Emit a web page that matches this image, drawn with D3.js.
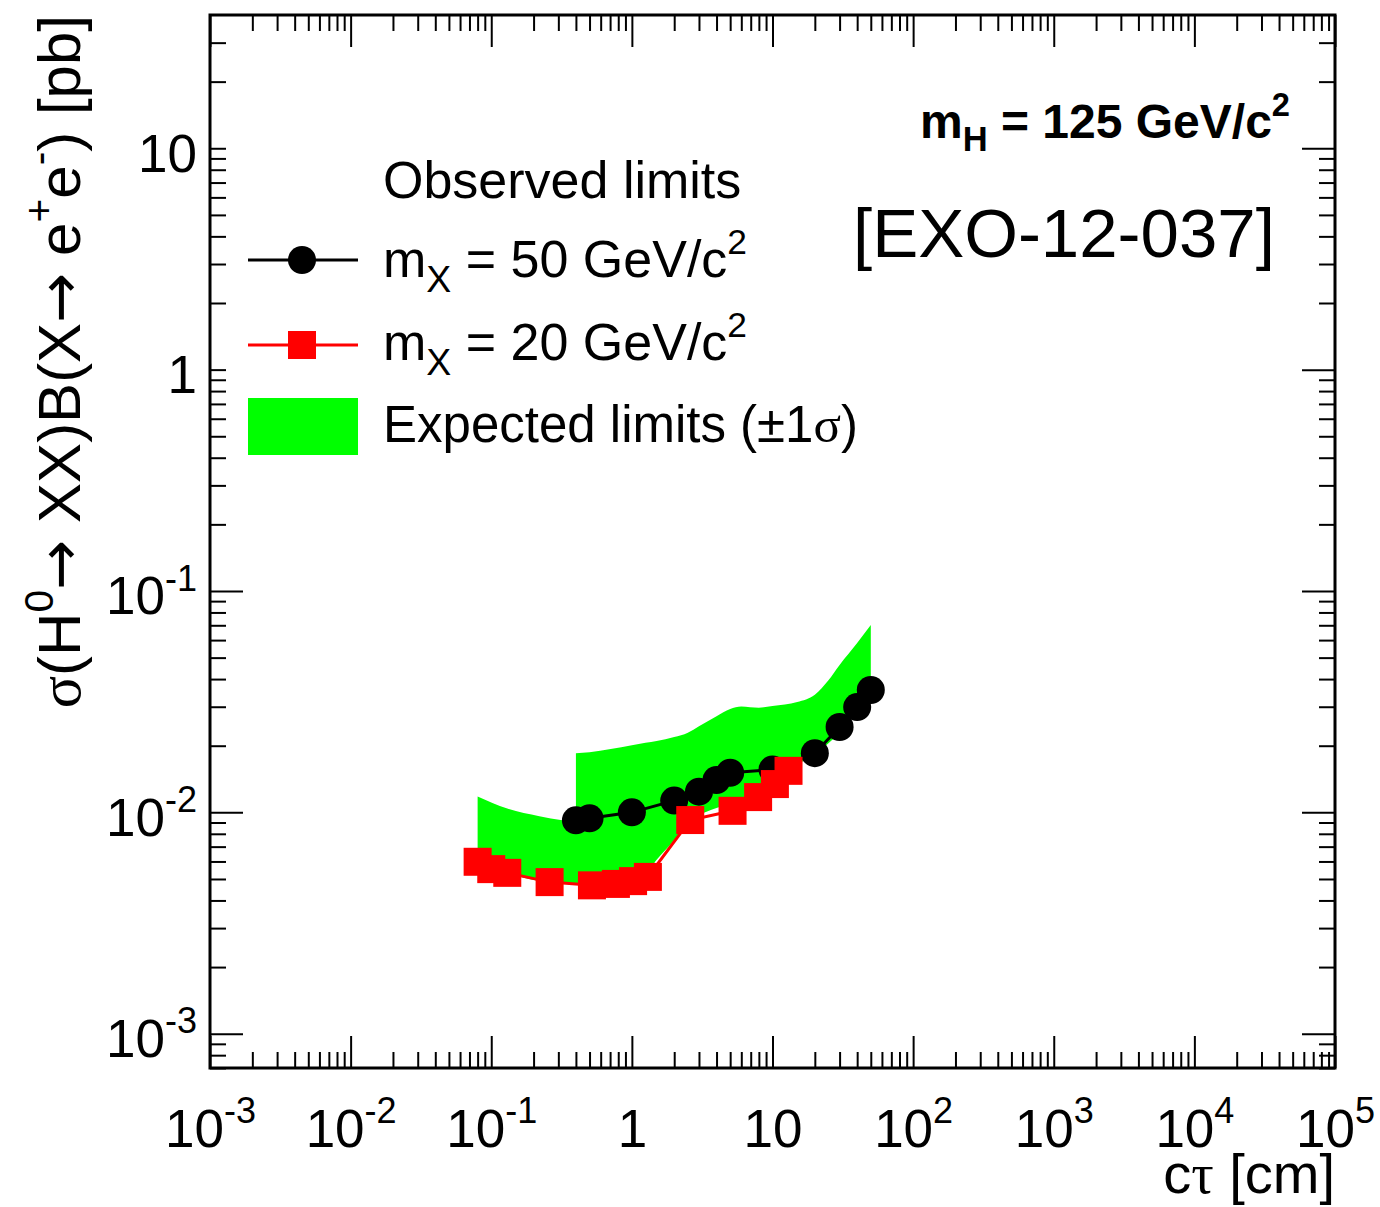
<!DOCTYPE html>
<html>
<head>
<meta charset="utf-8">
<script src="https://cdn.jsdelivr.net/npm/d3@7"></script>
<style>
  body { margin: 0; background: #fff; }
  text { font-family: "Liberation Sans", Arial, Helvetica, sans-serif; fill: #000; white-space: pre; }
</style>
</head>
<body>
<svg id="chart" width="1380" height="1207"></svg>
<script>
// observed limits, m_X = 50 GeV/c^2
const ctau50 = [0.4, 0.5, 1, 2, 3, 4, 5, 10, 20, 30, 40, 50];
const obs50 = [0.0092, 0.0094, 0.0100, 0.0113, 0.0124, 0.0140, 0.0151, 0.0156, 0.0185, 0.0243, 0.0299, 0.0357];

// observed limits, m_X = 20 GeV/c^2
const ctau20 = [0.08, 0.1, 0.13, 0.26, 0.52, 0.77, 1.02, 1.3, 2.6, 5.2, 7.9, 10.4, 13];
const obs20 = [0.00598, 0.00554, 0.00533, 0.00484, 0.00468, 0.00475, 0.00489, 0.00511, 0.00923, 0.01016, 0.01172, 0.01342, 0.0154];

// expected band (+-1 sigma), m_X = 20
const ctauExp20 = [0.08, 0.13, 0.22, 0.32, 0.5, 0.75, 1, 1.3];
const expHi20 = [0.0118, 0.0104, 0.0096, 0.0092, 0.0090, 0.0090, 0.0090, 0.0090];
const expLo20 = [0.0058, 0.0053, 0.0049, 0.0048, 0.0047, 0.00474, 0.00494, 0.00515];

// expected band (+-1 sigma), m_X = 50
const ctauExp50 = [0.4, 0.5, 1, 1.25, 1.5, 2, 2.5, 3, 4, 5, 6, 8, 10, 15, 20, 25, 30, 40, 50];
const expHi50 = [0.0185, 0.0187, 0.0201, 0.0206, 0.0210, 0.0219, 0.0229, 0.0245, 0.0272, 0.0293, 0.0301, 0.0297, 0.0302, 0.0315, 0.0340, 0.0395, 0.0463, 0.0582, 0.0702];
const expLo50 = [0.0055, 0.0053, 0.0053, 0.0053, 0.0061, 0.0075, 0.0090, 0.0097, 0.01045, 0.0110, 0.0115, 0.0126, 0.0143, 0.0165, 0.0182, 0.0205, 0.0228, 0.0287, 0.0357];

const xMajor = [1e-3, 1e-2, 1e-1, 1, 10, 1e2, 1e3, 1e4, 1e5];
const yMajor = [1e-3, 1e-2, 1e-1, 1, 10];

const svg = d3.select("#chart");
const frame = { left: 210, right: 1335, top: 15, bottom: 1068 };

const x = d3.scaleLog().domain([1e-3, 1e5]).range([frame.left, frame.right]);
const y = d3.scaleLog().domain([7e-4, 40]).range([frame.bottom, frame.top]);

// minor tick positions 2..9 per decade
const minorOf = (lo, hi) => {
  const out = [];
  for (let e = -4; e <= 5; e++) {
    for (let k = 2; k <= 9; k++) {
      const v = k * Math.pow(10, e);
      if (v >= lo * 0.999 && v < hi * 0.999) out.push(v);
    }
  }
  return out;
};
const xMinor = minorOf(1e-3, 1e5);
const yMinor = minorOf(7e-4, 40);

// text with sub/superscripts
function rich(sel, parts, size) {
  let off = 0;
  parts.forEach(([str, kind, fam]) => {
    let target = 0, fs = size;
    if (kind === "sup") { target = -0.45 * size; fs = 0.68 * size; }
    if (kind === "sub") { target = 0.28 * size; fs = 0.72 * size; }
    const ts = sel.append("tspan").attr("font-size", fs).attr("dy", target - off).text(str);
    if (fam) ts.attr("font-family", fam);
    off = target;
  });
}
const powLabel = (v) => {
  const e = Math.round(Math.log10(v));
  if (e === 0) return [["1"]];
  if (e === 1) return [["10"]];
  return [["10"], [String(e), "sup"]];
};

const SERIF = "'Liberation Serif', serif";
const ARROW = "'DejaVu Sans', sans-serif";

// expected bands
const band = d3.area()
  .x((d) => x(d[0]))
  .y0((d) => y(d[1]))
  .y1((d) => y(d[2]))
  .curve(d3.curveMonotoneX);

svg.append("path")
  .attr("d", band(ctauExp20.map((c, i) => [c, expLo20[i], expHi20[i]])))
  .attr("fill", "#00ff00");
svg.append("path")
  .attr("d", band(ctauExp50.map((c, i) => [c, expLo50[i], expHi50[i]])))
  .attr("fill", "#00ff00");

const line = d3.line().x((d) => x(d[0])).y((d) => y(d[1]));

// m_X = 50 observed
const pts50 = ctau50.map((c, i) => [c, obs50[i]]);
svg.append("path").attr("d", line(pts50))
  .attr("fill", "none").attr("stroke", "#000").attr("stroke-width", 3);
svg.append("g").selectAll("circle").data(pts50).enter().append("circle")
  .attr("cx", (d) => x(d[0])).attr("cy", (d) => y(d[1])).attr("r", 14)
  .attr("fill", "#000");

// m_X = 20 observed
const pts20 = ctau20.map((c, i) => [c, obs20[i]]);
svg.append("path").attr("d", line(pts20))
  .attr("fill", "none").attr("stroke", "#ff0000").attr("stroke-width", 3);
svg.append("g").selectAll("rect").data(pts20).enter().append("rect")
  .attr("x", (d) => x(d[0]) - 14).attr("y", (d) => y(d[1]) - 14)
  .attr("width", 28).attr("height", 28)
  .attr("fill", "#ff0000");

// axes, ROOT style: ticks inside on all four sides
const fixTicks = (g) => {
  g.select(".domain").remove();
  g.selectAll(".tick line").attr("stroke", "#000").attr("stroke-width", 2);
};

svg.append("g").attr("transform", `translate(0,${frame.bottom})`)
  .call(d3.axisBottom(x).tickValues(xMinor).tickSize(-16).tickFormat(""))
  .call(fixTicks);
const xAxis = svg.append("g").attr("transform", `translate(0,${frame.bottom})`)
  .call(d3.axisBottom(x).tickValues(xMajor).tickSize(-32))
  .call(fixTicks);
xAxis.selectAll(".tick text").each(function (d) {
  const t = d3.select(this).text(null).attr("y", 79).attr("dy", null)
    .attr("font-size", 53).attr("text-anchor", "middle");
  rich(t, powLabel(d), 53);
});

svg.append("g").attr("transform", `translate(0,${frame.top})`)
  .call(d3.axisTop(x).tickValues(xMinor).tickSize(-16).tickFormat(""))
  .call(fixTicks);
svg.append("g").attr("transform", `translate(0,${frame.top})`)
  .call(d3.axisTop(x).tickValues(xMajor).tickSize(-32).tickFormat(""))
  .call(fixTicks);

svg.append("g").attr("transform", `translate(${frame.left},0)`)
  .call(d3.axisLeft(y).tickValues(yMinor).tickSize(-16).tickFormat(""))
  .call(fixTicks);
const yAxis = svg.append("g").attr("transform", `translate(${frame.left},0)`)
  .call(d3.axisLeft(y).tickValues(yMajor).tickSize(-33))
  .call(fixTicks);
yAxis.selectAll(".tick line").filter((d) => d >= 1).attr("x2", 16);
yAxis.selectAll(".tick text").each(function (d) {
  const t = d3.select(this).text(null).attr("x", -13).attr("y", 23).attr("dy", null)
    .attr("font-size", 53).attr("text-anchor", "end");
  rich(t, powLabel(d), 53);
});

svg.append("g").attr("transform", `translate(${frame.right},0)`)
  .call(d3.axisRight(y).tickValues(yMinor).tickSize(-16).tickFormat(""))
  .call(fixTicks);
svg.append("g").attr("transform", `translate(${frame.right},0)`)
  .call(d3.axisRight(y).tickValues(yMajor).tickSize(-33).tickFormat(""))
  .call(fixTicks);

svg.append("rect")
  .attr("x", frame.left).attr("y", frame.top)
  .attr("width", frame.right - frame.left).attr("height", frame.bottom - frame.top)
  .attr("fill", "none").attr("stroke", "#000").attr("stroke-width", 3);

// axis titles
const xTitle = svg.append("text")
  .attr("x", frame.right).attr("y", 1193)
  .attr("text-anchor", "end").attr("font-size", 56);
rich(xTitle, [["c"], ["τ", null, SERIF], [" [cm]"]], 56);

const yTitle = svg.append("text")
  .attr("transform", "translate(80,15) rotate(-90)")
  .attr("text-anchor", "end").attr("font-size", 60);
rich(yTitle, [
  ["σ", null, SERIF], ["(H"], ["0", "sup"], ["→", null, ARROW], [" XX)B(X"], ["→", null, ARROW], [" e"],
  ["+", "sup"], ["e"], ["-", "sup"], [") [pb]"]
], 60);

// legend
const lg = svg.append("g");
lg.append("text").attr("x", 383).attr("y", 198).attr("font-size", 52).text("Observed limits");

lg.append("line").attr("x1", 248).attr("x2", 358).attr("y1", 260).attr("y2", 260)
  .attr("stroke", "#000").attr("stroke-width", 3);
lg.append("circle").attr("cx", 302).attr("cy", 260).attr("r", 14).attr("fill", "#000");
const t1 = lg.append("text").attr("x", 383).attr("y", 277).attr("font-size", 52);
rich(t1, [["m"], ["X", "sub"], [" = 50 GeV/c"], ["2", "sup"]], 52);

lg.append("line").attr("x1", 248).attr("x2", 358).attr("y1", 345).attr("y2", 345)
  .attr("stroke", "#ff0000").attr("stroke-width", 3);
lg.append("rect").attr("x", 288).attr("y", 331).attr("width", 28).attr("height", 28).attr("fill", "#ff0000");
const t2 = lg.append("text").attr("x", 383).attr("y", 360).attr("font-size", 52);
rich(t2, [["m"], ["X", "sub"], [" = 20 GeV/c"], ["2", "sup"]], 52);

lg.append("rect").attr("x", 248).attr("y", 398).attr("width", 110).attr("height", 57).attr("fill", "#00ff00");
const t3 = lg.append("text").attr("x", 383).attr("y", 442).attr("font-size", 51);
rich(t3, [["Expected limits (±1"], ["σ", null, SERIF], [")"]], 51);

// annotations
const mh = svg.append("text").attr("x", 1290).attr("y", 138)
  .attr("text-anchor", "end").attr("font-size", 48).attr("font-weight", "bold");
rich(mh, [["m"], ["H", "sub"], [" = 125 GeV/c"], ["2", "sup"]], 48);

svg.append("text").attr("x", 853).attr("y", 257).attr("font-size", 69).text("[EXO-12-037]");
</script>
</body>
</html>
